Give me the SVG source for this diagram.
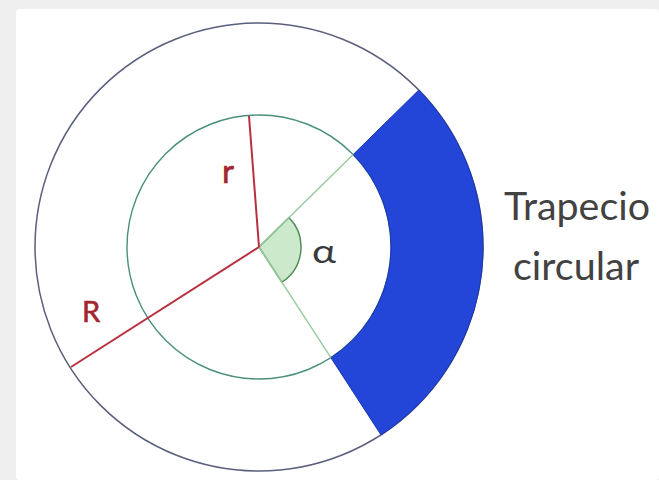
<svg xmlns="http://www.w3.org/2000/svg" width="659" height="480" viewBox="0 0 659 480">
  <style>
    .outer { fill: none; stroke: #5a5f7e; stroke-width: 1.5; }
    .inner { fill: none; stroke: #4a8f7c; stroke-width: 1.4; }
    .gline { stroke: #96cb9c; stroke-width: 1.4; fill: none; }
    .rline { stroke: #b8303f; stroke-width: 2; fill: none; }
    .lbl { font-family: Lato, "Open Sans", "Liberation Sans", sans-serif; }
    .red { fill: #a3262f; stroke: #a3262f; stroke-width: 0.6; }
    .txt { fill: #424242; font-size: 39px; }
  </style>
  <rect x="0" y="0" width="659" height="480" fill="#efefef"/>
  <rect x="16" y="9" width="643" height="471" rx="4" fill="#ffffff"/>

  <g id="outer-circle">
    <circle class="outer" cx="259" cy="247" r="224"/>
  </g>
  <g id="inner-circle">
    <circle class="inner" cx="259" cy="247" r="132"/>
  </g>
  <g id="trapecio">
    <path d="M 418.8 90 A 224 224 0 0 1 381 434.9 L 330.9 357.7 A 132 132 0 0 0 353.2 154.5 Z" fill="#2346d8" stroke="#1b36b0" stroke-width="1"/>
  </g>
  <g id="angle">
    <path d="M 259 247 L 288.96 217.56 A 42 42 0 0 1 281.87 282.23 Z" fill="#cde9cc" stroke="#4f8f5a" stroke-width="1.5"/>
  </g>
  <g id="connectors">
    <line class="gline" x1="259" y1="247" x2="353.2" y2="154.5"/>
    <line class="gline" x1="259" y1="247" x2="330.9" y2="357.7"/>
    <line class="rline" x1="259" y1="247" x2="249" y2="116"/>
    <line class="rline" x1="259" y1="247" x2="71" y2="367"/>
  </g>
  <g id="labels">
    <text class="lbl red" x="222" y="183" font-size="33">r</text>
    <text class="lbl red" x="82" y="322" font-size="29">R</text>
    <text class="lbl" x="312" y="263" fill="#3a3a3a" font-size="32" textLength="24" lengthAdjust="spacingAndGlyphs">α</text>
    <text class="lbl txt" x="504" y="220" textLength="146" lengthAdjust="spacingAndGlyphs">Trapecio</text>
    <text class="lbl txt" x="513" y="280" textLength="126" lengthAdjust="spacingAndGlyphs">circular</text>
  </g>
</svg>
